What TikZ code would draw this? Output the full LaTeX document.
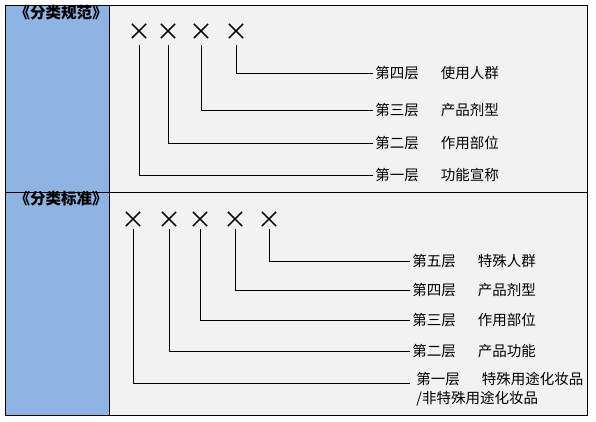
\documentclass[tikz,border=0pt]{standalone}
\usepackage{fontspec}
\setmainfont{Noto Sans CJK SC}
\usepackage{xcolor}
\definecolor{leftblue}{HTML}{8EB4E3}
\definecolor{rightgrey}{HTML}{F2F2F2}

\begin{document}
\begin{tikzpicture}[x=1pt,y=-1pt,line width=0.8pt,
    head/.style={inner sep=0pt,font=\bfseries\fontsize{15.5}{18}\selectfont},
    crossmark/.style={inner sep=0pt,font=\fontsize{24}{24}\selectfont},
    lbl/.style={anchor=west,inner sep=2pt,align=left,font=\fontsize{14.5}{19}\selectfont}]

            \useasboundingbox (0,0) rectangle (596,422);
            \fill[leftblue] (5,5) rectangle (109,415);
            \fill[rightgrey] (109,5) rectangle (587,415);
            \draw (5,5) rectangle (587,415);
            \draw (109,5) -- (109,415);
            \draw (5,192) -- (587,192);

            % upper part
            \node[head] (h1) at (61,13) {《分类规范》};

            \node[crossmark] (a1) at (139,32) {×};
            \node[crossmark] (a2) at (168,32) {×};
            \node[crossmark] (a3) at (201,32) {×};
            \node[crossmark] (a4) at (236,32) {×};

            \node[lbl] (t4) at (373,73) {第四层\hspace{22pt}使用人群};
            \node[lbl] (t3) at (373,110) {第三层\hspace{22pt}产品剂型};
            \node[lbl] (t2) at (373,143) {第二层\hspace{22pt}作用部位};
            \node[lbl] (t1) at (373,175) {第一层\hspace{22pt}功能宣称};

            \draw (a4) ++(0,13) |- (t4.west);
            \draw (a3) ++(0,13) |- (t3.west);
            \draw (a2) ++(0,13) |- (t2.west);
            \draw (a1) ++(0,13) |- (t1.west);

            % lower part
            \node[head] (h2) at (61,199) {《分类标准》};

            \node[crossmark] (b1) at (133,220) {×};
            \node[crossmark] (b2) at (169,220) {×};
            \node[crossmark] (b3) at (200,220) {×};
            \node[crossmark] (b4) at (235,220) {×};
            \node[crossmark] (b5) at (269,220) {×};

            \node[lbl] (s5) at (410,261) {第五层\hspace{22pt}特殊人群};
            \node[lbl] (s4) at (410,290) {第四层\hspace{22pt}产品剂型};
            \node[lbl] (s3) at (410,320) {第三层\hspace{22pt}作用部位};
            \node[lbl] (s2) at (410,351) {第二层\hspace{22pt}产品功能};
            \node[lbl,anchor=north west] (s1) at (414,370) {第一层\hspace{22pt}特殊用途化妆品\\/非特殊用途化妆品};

            \draw (b5) ++(0,9) |- (s5.west);
            \draw (b4) ++(0,9) |- (s4.west);
            \draw (b3) ++(0,9) |- (s3.west);
            \draw (b2) ++(0,9) |- (s2.west);
            \draw (b1) ++(0,9) |- ([xshift=-4pt,yshift=5.5pt]s1.west);
\end{tikzpicture}
\end{document}
